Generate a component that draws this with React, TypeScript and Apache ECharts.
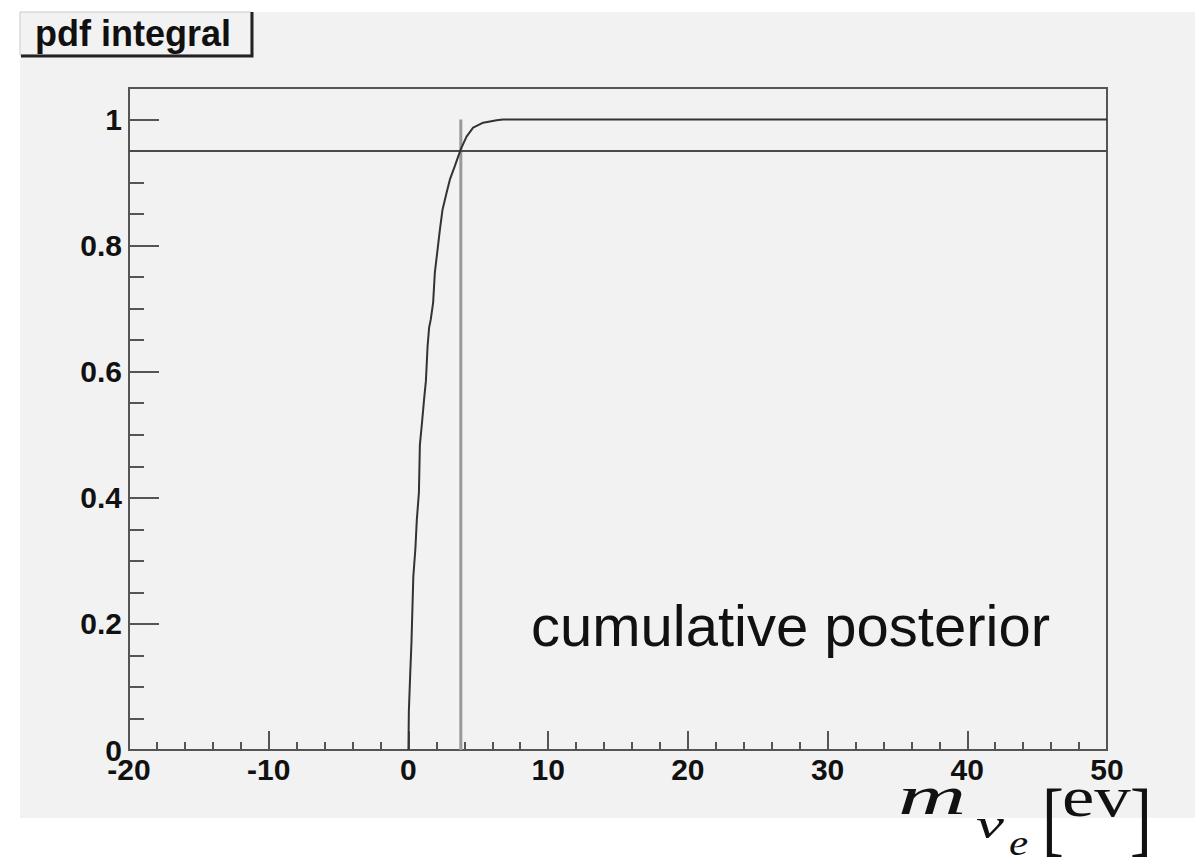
import { useEffect, useRef } from "react";
import * as echarts from "echarts";

// Axis ranges
const X_MIN = -20;
const X_MAX = 50;
const Y_MIN = 0;
const Y_MAX = 1.05;

// Cumulative posterior of the electron-neutrino mass (step-like integral of the pdf)
const massValues = [
  0.0, 0.03, 0.12, 0.22, 0.35, 0.5, 0.6, 0.75, 0.82, 0.98, 1.12, 1.25, 1.37, 1.48, 1.6,
  1.77, 1.89, 2.06, 2.25, 2.44, 2.73, 2.97, 3.32, 3.75, 4.16, 4.63, 5.35, 6.31, 6.76, 50,
];
const cumulativeValues = [
  0.0, 0.061, 0.116, 0.172, 0.275, 0.32, 0.365, 0.408, 0.484, 0.521, 0.556, 0.585, 0.64,
  0.67, 0.683, 0.71, 0.757, 0.789, 0.825, 0.857, 0.884, 0.905, 0.926, 0.953, 0.973, 0.987,
  0.995, 0.999, 1.0, 1.0,
];

// 95% credibility level and the corresponding upper limit on the mass
const confidenceLevel = 0.95;
const upperLimit = 3.75;

const titleText = "pdf integral";
const curveLabel = "cumulative posterior";

const PAD = "#f2f2f2";
const INK = "#111111";
const AXIS = "#555555";

// One piece of the typeset axis title, anchored at the bottom of its text box
function mathPiece(
  text: string,
  x: number,
  y: number,
  font: string,
  scaleX: number
) {
  return {
    type: "text",
    z: 12,
    x,
    y,
    scaleX,
    style: {
      text,
      x: 0,
      y: 0,
      textVerticalAlign: "bottom",
      fill: INK,
      font,
    },
  };
}

export default function App() {
  const ref = useRef<HTMLDivElement>(null);

  useEffect(() => {
    if (!ref.current) return;
    const chart = echarts.init(ref.current, null, { renderer: "svg" });

    const isMajor = (v: number) => Math.abs(v / 0.2 - Math.round(v / 0.2)) < 1e-6;
    const labelFont = {
      color: INK,
      fontFamily: "Liberation Sans",
      fontWeight: "bold" as const,
      fontSize: 30,
    };
    const axisLineStyle = { color: AXIS, width: 2 };

    chart.setOption({
      animation: false,
      backgroundColor: "#ffffff",
      grid: {
        left: 129,
        top: 88,
        right: 96,
        bottom: 113,
        show: true,
        backgroundColor: "transparent",
        borderColor: AXIS,
        borderWidth: 2,
      },
      xAxis: {
        type: "value",
        min: X_MIN,
        max: X_MAX,
        interval: 10,
        axisLine: { show: true, onZero: false, lineStyle: axisLineStyle },
        axisTick: { show: true, inside: true, length: 19, lineStyle: axisLineStyle },
        minorTick: { show: true, splitNumber: 5, length: 8, lineStyle: axisLineStyle },
        splitLine: { show: false },
        axisLabel: { ...labelFont, margin: 4 },
      },
      yAxis: [
        {
          type: "value",
          min: Y_MIN,
          max: Y_MAX,
          interval: 0.05,
          axisLine: { show: true, onZero: false, lineStyle: axisLineStyle },
          axisTick: { show: true, inside: true, length: 15, lineStyle: axisLineStyle },
          splitLine: { show: false },
          axisLabel: {
            ...labelFont,
            margin: 7,
            formatter: (v: number) => (isMajor(v) ? String(Number(v.toFixed(1))) : ""),
          },
        },
        {
          type: "value",
          position: "left",
          min: Y_MIN,
          max: Y_MAX,
          interval: 0.2,
          axisLine: { show: false, onZero: false },
          axisTick: { show: true, inside: true, length: 30, lineStyle: axisLineStyle },
          splitLine: { show: false },
          axisLabel: { show: false },
        },
      ],
      series: [
        {
          type: "line",
          name: "limit",
          data: [
            [upperLimit, 0],
            [upperLimit, 1],
          ],
          showSymbol: false,
          lineStyle: { color: "#999999", width: 3 },
          z: 2,
        },
        {
          type: "line",
          name: "level",
          data: [
            [X_MIN, confidenceLevel],
            [X_MAX, confidenceLevel],
          ],
          showSymbol: false,
          lineStyle: { color: "#4a4a4a", width: 2 },
          z: 3,
        },
        {
          type: "line",
          name: "cdf",
          data: massValues.map((m, i) => [m, cumulativeValues[i]]),
          showSymbol: false,
          lineStyle: { color: "#333333", width: 2 },
          z: 4,
        },
      ],
      graphic: [
        {
          type: "rect",
          z: -100,
          silent: true,
          shape: { x: 20, y: 12, width: 1175, height: 806 },
          style: { fill: PAD },
        },
        {
          type: "rect",
          z: 10,
          shape: { x: 20, y: 12, width: 231, height: 43 },
          style: { fill: PAD, stroke: "#c8c8c8", lineWidth: 1 },
        },
        {
          type: "polyline",
          z: 11,
          shape: {
            points: [
              [21, 56],
              [252, 56],
              [252, 12],
            ],
          },
          style: { stroke: "#222222", lineWidth: 3, fill: null },
        },
        {
          type: "text",
          z: 12,
          style: {
            text: titleText,
            x: 35,
            y: 33,
            textVerticalAlign: "middle",
            fill: INK,
            font: "bold 36px 'Liberation Sans'",
          },
        },
        {
          type: "text",
          z: 12,
          style: {
            text: curveLabel,
            x: 531,
            y: 625,
            textVerticalAlign: "middle",
            fill: INK,
            font: "58px 'Liberation Sans'",
          },
        },
        mathPiece("m", 898, 823, "italic 54px 'Liberation Serif'", 1.75),
        mathPiece("ν", 976, 845, "italic 42px 'Liberation Serif'", 1.5),
        mathPiece("e", 1009, 861, "italic 36px 'Liberation Serif'", 1.2),
        mathPiece("[", 1042, 859, "82px 'Liberation Serif'", 0.8),
        mathPiece("ev", 1062, 825, "56px 'Liberation Serif'", 1.3),
        mathPiece("]", 1130, 859, "82px 'Liberation Serif'", 0.8),
      ],
    });

    return () => chart.dispose();
  }, []);

  return (
    <div
      ref={ref}
      style={{ position: "fixed", left: 0, top: 0, width: 1203, height: 863 }}
    />
  );
}
